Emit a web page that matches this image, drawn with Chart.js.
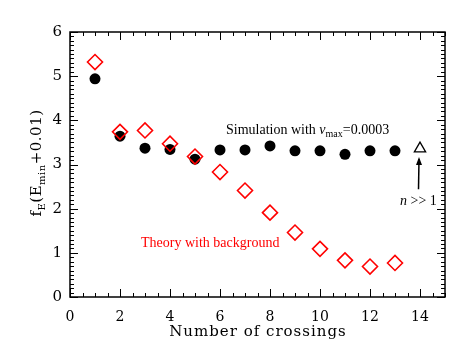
<!DOCTYPE html>
<html>
<head>
<meta charset="utf-8">
<script src="https://cdn.jsdelivr.net/npm/chart.js@4/dist/chart.umd.min.js"></script>
<style>
  body { margin: 0; background: #fff; }
  #wrap { width: 469px; height: 352px; }
</style>
</head>
<body>
<div id="wrap"><canvas id="plot"></canvas></div>
<script>
// crossings 1..13
const crossings = [1, 2, 3, 4, 5, 6, 7, 8, 9, 10, 11, 12, 13];
const simValues = [4.94, 3.64, 3.37, 3.34, 3.12, 3.33, 3.33, 3.42, 3.31, 3.31, 3.23, 3.31, 3.31];
const theoryValues = [5.32, 3.74, 3.77, 3.47, 3.18, 2.83, 2.41, 1.91, 1.46, 1.09, 0.83, 0.69, 0.77];
const limitPoint = [{ x: 14, y: 3.36 }];
const xTicks = [0, 2, 4, 6, 8, 10, 12, 14];
const yTicks = [0, 1, 2, 3, 4, 5, 6];

const FONT = '"DejaVu Serif", serif';
const TFONT = '"Liberation Serif", "Times New Roman", serif';

// IDL-style inward ticks on all four sides, plus titles and notes
const decor = {
  id: 'decor',
  afterDraw(chart) {
    const ctx = chart.ctx;
    const xs = chart.scales.x, ys = chart.scales.y;
    const a = chart.chartArea;
    ctx.save();
    ctx.strokeStyle = '#000';
    ctx.lineWidth = 1.5;
    ctx.strokeRect(a.left, a.top, a.right - a.left, a.bottom - a.top);
    ctx.lineWidth = 1;
    ctx.beginPath();
    for (let v = 0; v <= 15.001; v += 0.5) {
      const px = Math.round(xs.getPixelForValue(v)) + 0.5;
      const len = (Math.abs(v % 2) < 0.01) ? 8 : 4;
      ctx.moveTo(px, a.bottom); ctx.lineTo(px, a.bottom - len);
      ctx.moveTo(px, a.top); ctx.lineTo(px, a.top + len);
    }
    for (let i = 0; i <= 60; i++) {
      const py = Math.round(ys.getPixelForValue(i / 10)) + 0.5;
      const len = (i % 10 === 0) ? 8 : 4;
      ctx.moveTo(a.left, py); ctx.lineTo(a.left + len, py);
      ctx.moveTo(a.right, py); ctx.lineTo(a.right - len, py);
    }
    ctx.stroke();

    // x title
    ctx.fillStyle = '#000';
    ctx.font = '15px ' + FONT;
    ctx.letterSpacing = '1px';
    ctx.textAlign = 'center';
    ctx.textBaseline = 'middle';
    ctx.fillText('Number of crossings', 258, 332);
    ctx.textAlign = 'left';
    ctx.textBaseline = 'alphabetic';

    // y title with subscripts
    ctx.save();
    ctx.translate(41, 163);
    ctx.rotate(-Math.PI / 2);
    ctx.letterSpacing = '0.5px';
    const parts = [
      ['f', 15, 0], ['E', 10, 4], ['(E', 15, 0], ['min', 10, 4], ['+0.01)', 15, 0]
    ];
    let w = 0;
    parts.forEach(p => { ctx.font = p[1] + 'px ' + FONT; w += ctx.measureText(p[0]).width; });
    let cx = -w / 2;
    parts.forEach(p => {
      ctx.font = p[1] + 'px ' + FONT;
      ctx.fillText(p[0], cx, p[2]);
      cx += ctx.measureText(p[0]).width;
    });
    ctx.restore();
    ctx.letterSpacing = '0px';

    // simulation note
    let x = xs.getPixelForValue(6.24);
    let y = ys.getPixelForValue(3.68);
    ctx.fillStyle = '#000';
    ctx.font = '14px ' + TFONT;
    ctx.fillText('Simulation with ', x, y);
    x += ctx.measureText('Simulation with ').width;
    ctx.font = 'italic 14px ' + TFONT;
    ctx.fillText('v', x, y);
    x += ctx.measureText('v').width;
    ctx.font = '10px ' + TFONT;
    ctx.fillText('max', x, y + 3);
    x += ctx.measureText('max').width;
    ctx.font = '14px ' + TFONT;
    ctx.fillText('=0.0003', x, y);

    // theory note
    ctx.fillStyle = '#ff0000';
    ctx.font = '14px ' + TFONT;
    ctx.fillText('Theory with background', xs.getPixelForValue(2.84), ys.getPixelForValue(1.14));

    // n >> 1 note and arrow
    ctx.fillStyle = '#000';
    x = xs.getPixelForValue(13.2);
    y = ys.getPixelForValue(2.08);
    ctx.font = 'italic 14px ' + TFONT;
    ctx.fillText('n', x, y);
    x += ctx.measureText('n ').width;
    ctx.font = '14px ' + TFONT;
    ctx.fillText('>> 1', x, y);

    const ax = xs.getPixelForValue(13.96);
    const y0 = ys.getPixelForValue(2.44), y1 = ys.getPixelForValue(3.17);
    ctx.lineWidth = 1.5;
    ctx.beginPath();
    ctx.moveTo(ax - 0.5, y0); ctx.lineTo(ax, y1 + 2);
    ctx.stroke();
    ctx.beginPath();
    ctx.moveTo(ax, y1);
    ctx.lineTo(ax - 3, y1 + 8);
    ctx.lineTo(ax + 3, y1 + 8);
    ctx.closePath();
    ctx.fill();
    ctx.restore();
  }
};

new Chart(document.getElementById('plot'), {
  type: 'scatter',
  data: {
    datasets: [
      {
        label: 'Theory with background',
        data: crossings.map((c, i) => ({ x: c, y: theoryValues[i] })),
        pointStyle: 'rectRot',
        pointRadius: 7.5,
        borderColor: '#ff0000',
        backgroundColor: 'rgba(0,0,0,0)',
        borderWidth: 1.6
      },
      {
        label: 'Simulation',
        data: crossings.map((c, i) => ({ x: c, y: simValues[i] })),
        pointStyle: 'circle',
        pointRadius: 5.5,
        borderColor: '#000',
        backgroundColor: '#000',
        borderWidth: 0
      },
      {
        label: 'n >> 1',
        data: limitPoint,
        pointStyle: 'triangle',
        pointRadius: 6.5,
        borderColor: '#000',
        backgroundColor: '#fff',
        borderWidth: 1.3
      }
    ]
  },
  options: {
    responsive: true,
    maintainAspectRatio: false,
    animation: false,
    layout: { padding: { top: 32, right: 24, left: 0, bottom: 0 } },
    plugins: { legend: { display: false }, tooltip: { enabled: false } },
    scales: {
      x: {
        type: 'linear', min: 0, max: 15,
        afterBuildTicks: s => { s.ticks = xTicks.map(v => ({ value: v })); },
        afterFit: s => { s.height = 55; },
        grid: { display: false, drawTicks: false },
        border: { display: false },
        ticks: { color: '#000', padding: 12, maxRotation: 0, font: { family: FONT, size: 14 } }
      },
      y: {
        type: 'linear', min: 0, max: 6,
        afterBuildTicks: s => { s.ticks = yTicks.map(v => ({ value: v })); },
        afterFit: s => { s.width = 70; },
        grid: { display: false, drawTicks: false },
        border: { display: false },
        ticks: { color: '#000', padding: 8, font: { family: FONT, size: 15 } }
      }
    }
  },
  plugins: [decor]
});
</script>
</body>
</html>
